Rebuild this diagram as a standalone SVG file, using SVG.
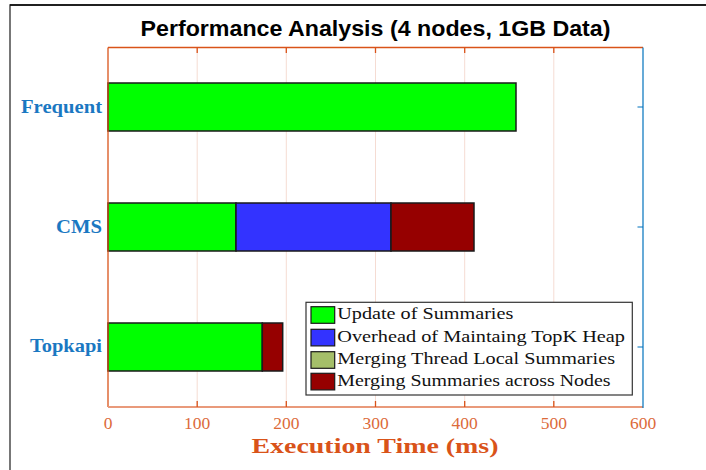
<svg xmlns="http://www.w3.org/2000/svg" width="706" height="470" viewBox="0 0 706 470">
  <style>
    .grid { stroke: #f5dcd3; stroke-width: 1; }
    .axis-o { stroke: #D95319; stroke-width: 1.3; fill: none; }
    .axis-b { stroke: #0072BD; stroke-width: 1.2; fill: none; }
    .bar { stroke: #1a1a1a; stroke-width: 1.5; }
    .sw { stroke: #1a1a1a; stroke-width: 1.2; }
    .tick { font-family: "Liberation Serif", "Times New Roman", serif; font-size: 17.5px; fill: #dc6a3a; text-anchor: middle; }
    .cat { font-family: "Liberation Serif", "Times New Roman", serif; font-size: 19px; font-weight: bold; fill: #1a78c2; text-anchor: end; }
    .leg { font-family: "Liberation Serif", "Times New Roman", serif; font-size: 17px; fill: #111; }
    .upd { fill: #00ff00; }
    .heap { fill: #3333ff; }
    .thr { fill: #a5bf69; }
    .nod { fill: #960000; }
  </style>

  <!-- figure background and frame -->
  <rect x="0" y="0" width="706" height="470" fill="#ffffff"/>
  <path d="M10,472 L10,5 L708,5" fill="none" stroke="#555" stroke-width="1.6"/>
  <path d="M10,5 L708,5" fill="none" stroke="#000" stroke-width="1.6"/>

  <!-- title -->
  <text x="375.5" y="36" text-anchor="middle" font-family="'Liberation Sans', Arial, sans-serif" font-size="22" font-weight="bold" fill="#000" textLength="470" lengthAdjust="spacingAndGlyphs">Performance Analysis (4 nodes, 1GB Data)</text>

  <!-- vertical grid -->
  <g id="grid">
    <line class="grid" x1="197.2" y1="47.5" x2="197.2" y2="407"/>
    <line class="grid" x1="286.3" y1="47.5" x2="286.3" y2="407"/>
    <line class="grid" x1="375.5" y1="47.5" x2="375.5" y2="407"/>
    <line class="grid" x1="464.7" y1="47.5" x2="464.7" y2="407"/>
    <line class="grid" x1="553.8" y1="47.5" x2="553.8" y2="407"/>
  </g>

  <!-- stacked bars -->
  <g id="frequent">
    <rect class="bar upd" x="108" y="83" width="408" height="48"/>
  </g>
  <g id="cms">
    <rect class="bar upd" x="108" y="203" width="128" height="48"/>
    <rect class="bar heap" x="236" y="203" width="155" height="48"/>
    <rect class="bar nod" x="391" y="203" width="83" height="48"/>
  </g>
  <g id="topkapi">
    <rect class="bar upd" x="108" y="323" width="154.3" height="48"/>
    <rect class="bar nod" x="262.3" y="323" width="20.4" height="48"/>
  </g>

  <!-- axes -->
  <g id="axes">
    <line class="axis-o" x1="108" y1="47.5" x2="643" y2="47.5"/>
    <line class="axis-o" x1="108" y1="47.5" x2="108" y2="407"/>
    <line x1="108" y1="407" x2="643" y2="407" stroke="#e99a7b" stroke-width="2"/>
    <line class="axis-b" x1="643" y1="47.5" x2="643" y2="408"/>
    <!-- top ticks -->
    <path class="axis-o" d="M197.2,47.5 v5.5 M286.3,47.5 v5.5 M375.5,47.5 v5.5 M464.7,47.5 v5.5 M553.8,47.5 v5.5"/>
    <!-- bottom ticks -->
    <path class="axis-o" d="M197.2,407 v-6 M286.3,407 v-6 M375.5,407 v-6 M464.7,407 v-6 M553.8,407 v-6"/>
    <!-- right ticks -->
    <path class="axis-b" d="M643,107 h-5.5 M643,227 h-5.5 M643,347 h-5.5"/>
  </g>

  <!-- category labels -->
  <g id="categories">
    <text class="cat" x="102" y="112.5" textLength="81" lengthAdjust="spacingAndGlyphs">Frequent</text>
    <text class="cat" x="102" y="232.5" textLength="46" lengthAdjust="spacingAndGlyphs">CMS</text>
    <text class="cat" x="102" y="352" textLength="72" lengthAdjust="spacingAndGlyphs">Topkapi</text>
  </g>

  <!-- x tick labels -->
  <g id="xticks">
    <text class="tick" x="108" y="428.5">0</text>
    <text class="tick" x="197.2" y="428.5">100</text>
    <text class="tick" x="286.3" y="428.5">200</text>
    <text class="tick" x="375.5" y="428.5">300</text>
    <text class="tick" x="464.7" y="428.5">400</text>
    <text class="tick" x="553.8" y="428.5">500</text>
    <text class="tick" x="643" y="428.5">600</text>
  </g>

  <!-- x axis label -->
  <text x="375" y="453" text-anchor="middle" font-family="'Liberation Serif', 'Times New Roman', serif" font-size="21.5" font-weight="bold" fill="#D95319" textLength="247" lengthAdjust="spacingAndGlyphs">Execution Time (ms)</text>

  <!-- legend -->
  <g id="legend">
    <rect x="306" y="302.3" width="326.3" height="92.7" fill="#ffffff" stroke="#333" stroke-width="1.2"/>
    <rect class="sw upd" x="311" y="306.7" width="23.7" height="16.6"/>
    <rect class="sw heap" x="311" y="329.3" width="23.7" height="16.6"/>
    <rect class="sw thr" x="311" y="351.7" width="23.7" height="16.6"/>
    <rect class="sw nod" x="311" y="373.3" width="23.7" height="16.6"/>
    <text class="leg" x="337.3" y="319.3" textLength="176" lengthAdjust="spacingAndGlyphs">Update of Summaries</text>
    <text class="leg" x="337.3" y="341.6" textLength="287.7" lengthAdjust="spacingAndGlyphs">Overhead of Maintaing TopK Heap</text>
    <text class="leg" x="337.3" y="363.9" textLength="277.7" lengthAdjust="spacingAndGlyphs">Merging Thread Local Summaries</text>
    <text class="leg" x="337.3" y="386.2" textLength="273.3" lengthAdjust="spacingAndGlyphs">Merging Summaries across Nodes</text>
  </g>
</svg>
